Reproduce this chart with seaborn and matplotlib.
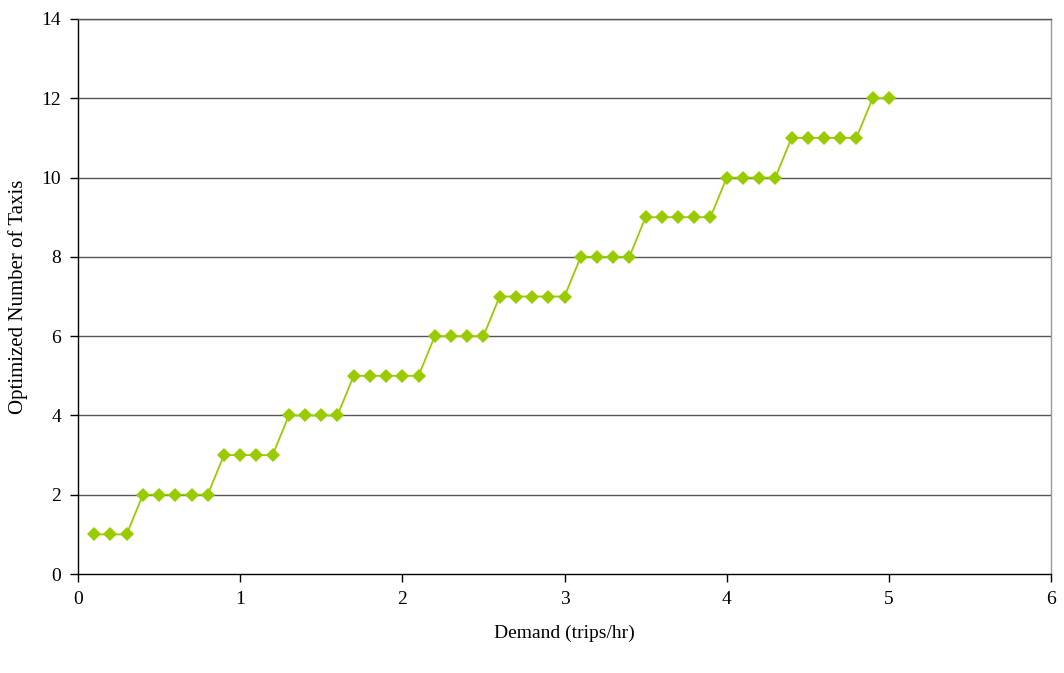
import numpy as np
import pandas as pd
import matplotlib
matplotlib.use("Agg")
import matplotlib.pyplot as plt
import seaborn as sns

# demand (trips/hr) and optimized fleet size
demand = [0.1, 0.2, 0.3, 0.4, 0.5, 0.6, 0.7, 0.8, 0.9, 1.0,
          1.1, 1.2, 1.3, 1.4, 1.5, 1.6, 1.7, 1.8, 1.9, 2.0,
          2.1, 2.2, 2.3, 2.4, 2.5, 2.6, 2.7, 2.8, 2.9, 3.0,
          3.1, 3.2, 3.3, 3.4, 3.5, 3.6, 3.7, 3.8, 3.9, 4.0,
          4.1, 4.2, 4.3, 4.4, 4.5, 4.6, 4.7, 4.8, 4.9, 5.0]
taxis = [1, 1, 1, 2, 2, 2, 2, 2, 3, 3,
         3, 3, 4, 4, 4, 4, 5, 5, 5, 5,
         5, 6, 6, 6, 6, 7, 7, 7, 7, 7,
         8, 8, 8, 8, 9, 9, 9, 9, 9, 10,
         10, 10, 10, 11, 11, 11, 11, 11, 12, 12]

x_ticks = [0, 1, 2, 3, 4, 5, 6]
y_ticks = [0, 2, 4, 6, 8, 10, 12, 14]

df = pd.DataFrame({"demand": demand, "taxis": taxis})

sns.set_style("white")
plt.rcParams["font.family"] = ["Liberation Serif", "DejaVu Serif"]
plt.rcParams["text.color"] = "black"
plt.rcParams["axes.labelcolor"] = "black"
plt.rcParams["xtick.color"] = "black"
plt.rcParams["ytick.color"] = "black"

fig = plt.figure(figsize=(10.64, 6.73), dpi=100)
ax = fig.add_axes([0.0733, 0.147, 0.9145, 0.8248])

for y in y_ticks[1:]:
    ax.axhline(y, color="#555555", lw=1.0, zorder=1)

sns.lineplot(data=df, x="demand", y="taxis", ax=ax, color="#99CC00",
             marker="D", markersize=7, markeredgewidth=0, lw=1.3, zorder=3)

ax.set_xlim(0, 6)
ax.set_ylim(0, 14)
ax.set_xticks(x_ticks)
ax.set_yticks(y_ticks)
ax.tick_params(axis="both", labelsize=14, direction="out", length=6,
               width=1.0, colors="black", left=True, bottom=True, pad=6)
ax.set_xlabel("Demand (trips/hr)", fontsize=14, labelpad=12, color="black")
ax.set_ylabel("Optimized Number of Taxis", fontsize=15, labelpad=10, color="black")

ax.spines["left"].set_color("black")
ax.spines["bottom"].set_color("black")
ax.spines["right"].set_color("#999999")
ax.spines["top"].set_color("#555555")
for s in ax.spines.values():
    s.set_linewidth(1.0)

fig.savefig("out.png", dpi=100)
